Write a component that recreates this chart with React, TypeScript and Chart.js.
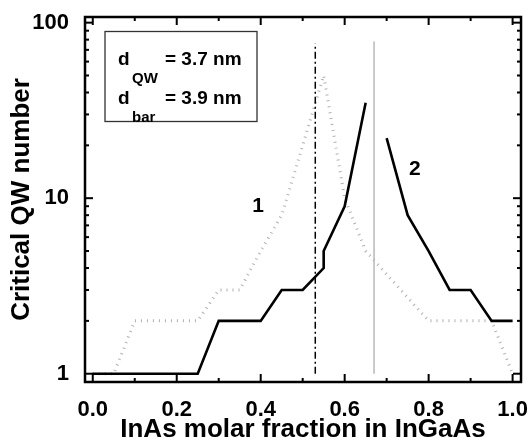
import React, { useEffect, useRef } from "react";
import { Chart, registerables } from "chart.js";

Chart.register(...registerables);

// ---- data ----
const curve1X = [0, 0.25, 0.3, 0.4, 0.45, 0.5, 0.55, 0.55, 0.6, 0.65];
const curve1Y = [1, 1, 2, 2, 3, 3, 4, 5, 9, 35];
const curve2X = [0.7, 0.75, 0.8, 0.85, 0.9, 0.95, 1.0];
const curve2Y = [22, 8, 5, 3, 3, 2, 2];
const dottedX = [0, 0.05, 0.1, 0.25, 0.3, 0.35, 0.4, 0.45, 0.5, 0.55, 0.6, 0.65, 0.8, 0.95, 1.0];
const dottedY = [1, 1, 2, 2, 3, 3, 5, 8, 20, 50, 10, 5, 2, 2, 1];
const dashDotX = [0.53, 0.53];
const dashDotY = [1, 76];
const grayLineX = [0.67, 0.67];
const grayLineY = [1, 78];
const curveLabels = ["1", "2"];
const curveLabelX = [0.394, 0.767];
const curveLabelY = [9, 14.6];
const xTickValues = [0, 0.1, 0.2, 0.3, 0.4, 0.5, 0.6, 0.7, 0.8, 0.9, 1.0];
const xMajorTicks = [0, 0.2, 0.4, 0.6, 0.8, 1.0];
const yTickValues = [1, 2, 3, 4, 5, 6, 7, 8, 9, 10, 20, 30, 40, 50, 60, 70, 80, 90, 100];
const yMajorTicks = [1, 10, 100];
const xTitle = "InAs molar fraction in InGaAs";
const yTitle = "Critical QW number";
const boxLines = [
  { main: "d", sub: "QW", rest: "= 3.7 nm" },
  { main: "d", sub: "bar", rest: "= 3.9 nm" },
];

const FONT = "'Liberation Sans', Arial, sans-serif";

const toPts = (xs: number[], ys: number[]) => xs.map((x, i) => ({ x, y: ys[i] }));

function drawOverlay(chart: any) {
  const { ctx, chartArea: a, scales } = chart;
  const xs = scales.x;
  const ys = scales.y;
  ctx.save();
  ctx.fillStyle = "#000";
  for (let i = 0; i < xTickValues.length; i++) {
    const v = xTickValues[i];
    const px = xs.getPixelForValue(v);
    let major = false;
    for (let j = 0; j < xMajorTicks.length; j++) if (Math.abs(xMajorTicks[j] - v) < 1e-9) major = true;
    const len = major ? 8 : 4;
    ctx.fillRect(px - 1, a.bottom - len, 2, len);
    ctx.fillRect(px - 1, a.top, 2, len);
  }
  for (let i = 0; i < yTickValues.length; i++) {
    const v = yTickValues[i];
    const py = ys.getPixelForValue(v);
    let major = false;
    for (let j = 0; j < yMajorTicks.length; j++) if (yMajorTicks[j] === v) major = true;
    const len = major ? 8 : 4;
    ctx.fillRect(a.left, py - 1, len, 2);
    ctx.fillRect(a.right - len, py - 1, len, 2);
  }
  ctx.strokeStyle = "#000";
  ctx.setLineDash([]);
  ctx.lineWidth = 2.5;
  ctx.strokeRect(a.left, a.top, a.right - a.left, a.bottom - a.top);

  ctx.font = `bold 21px ${FONT}`;
  ctx.textAlign = "center";
  ctx.textBaseline = "middle";
  for (let i = 0; i < curveLabels.length; i++) {
    ctx.fillText(curveLabels[i], xs.getPixelForValue(curveLabelX[i]), ys.getPixelForValue(curveLabelY[i]));
  }

  const bx = a.left + 20;
  const by = a.top + 14.5;
  ctx.lineWidth = 1.3;
  ctx.strokeStyle = "#333";
  ctx.strokeRect(bx, by, 152, 90);
  ctx.textAlign = "left";
  ctx.textBaseline = "alphabetic";
  for (let i = 0; i < boxLines.length; i++) {
    const l = boxLines[i];
    const base = by + 33.5 + i * 38.5;
    ctx.font = `bold 19px ${FONT}`;
    ctx.fillText(l.main, bx + 13, base);
    ctx.font = `bold 15px ${FONT}`;
    ctx.fillText(l.sub, bx + 27, base + 18);
    ctx.font = `bold 19px ${FONT}`;
    ctx.fillText(l.rest, bx + 60, base);
  }
  ctx.restore();
}

const overlayPlugin = {
  id: "overlayFrame",
  afterDraw(chart: any) {
    drawOverlay(chart);
  },
};

export default function App() {
  const ref = useRef<HTMLCanvasElement | null>(null);
  useEffect(() => {
    document.body.style.margin = "0";
    const canvas = ref.current;
    if (!canvas) return;
    const chart = new Chart(canvas, {
      type: "line",
      data: {
        datasets: [
          { data: toPts(curve1X, curve1Y), borderColor: "#000", borderWidth: 2.6, pointRadius: 0, tension: 0 },
          { data: toPts(curve2X, curve2Y), borderColor: "#000", borderWidth: 2.6, pointRadius: 0, tension: 0 },
          { data: toPts(dashDotX, dashDotY), borderColor: "#000", borderWidth: 1.5, borderDash: [7, 3, 2, 3], pointRadius: 0 },
          { data: toPts(grayLineX, grayLineY), borderColor: "#b8b8b8", borderWidth: 1.5, pointRadius: 0 },
          { data: toPts(dottedX, dottedY), borderColor: "#b0b0b0", borderWidth: 3, borderDash: [1, 5], pointRadius: 0, tension: 0 },
        ],
      },
      options: {
        animation: false,
        responsive: false,
        events: [],
        layout: { padding: { top: 17, right: 7, left: 0, bottom: 0 } },
        plugins: { legend: { display: false }, tooltip: { enabled: false } },
        scales: {
          x: {
            type: "linear",
            min: -0.0185,
            max: 1.02,
            grid: { display: false },
            border: { display: false },
            ticks: {
              stepSize: 0.2,
              includeBounds: false,
              autoSkip: false,
              maxRotation: 0,
              padding: 7,
              color: "#000",
              font: { family: FONT, size: 22, weight: "bold" },
              callback: (v: any) => {
                const n = Number(v);
                const r = Math.round(n * 5) / 5;
                return Math.abs(n - r) < 1e-6 && r >= 0 && r <= 1 ? r.toFixed(1) : "";
              },
            },
            title: {
              display: true,
              text: xTitle,
              color: "#000",
              font: { family: FONT, size: 26, weight: "bold", lineHeight: 1 },
              padding: { top: 0, bottom: 0 },
            },
            afterFit: (s: any) => {
              s.height = 61;
              s.paddingLeft = 0;
              s.paddingRight = 0;
            },
          },
          y: {
            type: "logarithmic",
            min: 0.897,
            max: 107.7,
            grid: { display: false },
            border: { display: false },
            ticks: {
              autoSkip: false,
              padding: 8,
              color: "#000",
              font: { family: FONT, size: 22, weight: "bold" },
              callback: (v: any) => {
                const n = Number(v);
                const l = Math.log10(n);
                return n >= 1 && Math.abs(l - Math.round(l)) < 1e-6 ? String(Math.round(n)) : "";
              },
            },
            title: {
              display: true,
              text: yTitle,
              color: "#000",
              font: { family: FONT, size: 26, weight: "bold", lineHeight: 1 },
              padding: { top: 9, bottom: 0 },
            },
            afterFit: (s: any) => {
              s.width = 85;
              s.paddingTop = 0;
              s.paddingBottom = 0;
            },
          },
        },
      },
      plugins: [overlayPlugin],
    } as any);
    return () => chart.destroy();
  }, []);
  return (
    <div style={{ width: 528, height: 443 }}>
      <canvas ref={ref} width={528} height={443} />
    </div>
  );
}
